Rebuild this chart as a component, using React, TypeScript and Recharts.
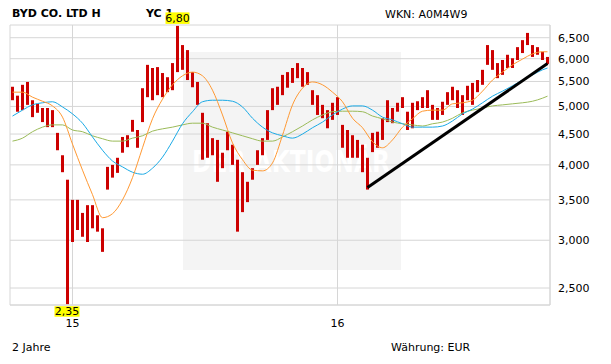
import React from 'react';
import { ComposedChart, Bar, Line, XAxis, YAxis, CartesianGrid, LabelList } from 'recharts';

// weekly high / low (EUR)
const highs = [
  5.39, 5.21, 5.43, 5.49, 5.12, 5.05, 4.97, 4.97, 4.93, 4.52,
  4.15, 3.78, 3.5, 3.5, 3.33, 3.43, 3.43, 3.3, 3.14, 3.97,
  4.0, 4.11, 4.45, 4.48, 4.75, 4.57, 5.36, 5.86, 5.79, 5.81,
  5.68, 5.59, 5.9, 6.8, 6.32, 6.2, 5.7, 5.49, 4.88, 4.69,
  4.43, 4.4, 4.19, 4.54, 4.32, 4.08, 3.89, 3.75, 3.95, 4.23,
  4.43, 4.93, 5.36, 5.39, 5.64, 5.7, 5.79, 5.9, 5.79, 5.7,
  5.32, 5.22, 5.03, 4.93, 5.07, 5.18, 4.66, 4.57, 4.48, 4.4,
  4.32, 4.11, 4.52, 4.54, 4.78, 5.12, 4.97, 5.07, 5.18, 4.9,
  5.07, 5.1, 5.18, 5.32, 5.03, 4.97, 5.09, 5.28, 5.39, 5.32,
  5.22, 5.41, 5.47, 5.53, 5.75, 6.32, 6.2, 5.9, 5.97, 6.09,
  6.01, 6.27, 6.44, 6.62, 6.32, 6.27, 6.16, 6.04,
];
const lows = [
  5.12, 4.9, 4.93, 5.03, 4.8, 4.88, 4.71, 4.62, 4.62, 4.23,
  3.89, 2.35, 2.98, 3.12, 3.04, 2.98, 3.14, 3.1, 2.87, 3.64,
  3.81, 3.88, 4.19, 4.28, 4.54, 4.27, 4.71, 5.18, 5.12, 5.22,
  5.18, 5.28, 5.32, 5.7, 5.75, 5.53, 5.38, 5.03, 4.08, 4.11,
  4.15, 3.75, 3.95, 4.23, 4.0, 3.1, 3.34, 3.47, 3.78, 4.0,
  4.15, 4.4, 4.93, 5.03, 5.22, 5.37, 5.47, 5.57, 5.39, 5.43,
  5.03, 4.84, 4.78, 4.6, 4.75, 4.84, 4.27, 4.11, 4.11, 4.11,
  3.89, 3.64, 4.2, 4.27, 4.4, 4.71, 4.69, 4.9, 4.97, 4.57,
  4.6, 4.93, 4.97, 4.97, 4.75, 4.75, 4.84, 5.03, 5.12, 4.97,
  4.84, 5.12, 5.03, 5.28, 5.43, 5.86, 5.75, 5.57, 5.64, 5.79,
  5.79, 5.97, 6.13, 6.32, 6.04, 6.09, 5.97, 5.88,
];

// moving averages, every second week (the last value is the final week)
const maShort = [
  5.28, 5.28, 5.18, 5.1, 5.01, 4.8, 4.33, 3.92, 3.57, 3.27,
  3.32, 3.5, 3.81, 4.27, 4.77, 5.14, 5.43, 5.62, 5.7, 5.62,
  5.32, 4.84, 4.35, 4.08, 3.92, 3.91, 4.03, 4.48, 5.03, 5.36,
  5.49, 5.43, 5.28, 5.09, 4.78, 4.61, 4.37, 4.27, 4.4, 4.62,
  4.77, 4.91, 4.93, 4.93, 5.05, 5.07, 5.12, 5.3, 5.53, 5.7,
  5.86, 5.99, 6.11, 6.16, 6.16,
];
const maMid = [
  4.82, 4.93, 5.03, 5.07, 5.09, 4.99, 4.86, 4.69, 4.45, 4.23,
  4.06, 3.97, 3.89, 3.86, 3.95, 4.12, 4.38, 4.68, 4.9, 5.09,
  5.12, 5.12, 5.1, 4.99, 4.78, 4.62, 4.52, 4.47, 4.43, 4.5,
  4.61, 4.71, 4.84, 4.95, 5.01, 5.01, 4.93, 4.8, 4.75, 4.68,
  4.62, 4.62, 4.62, 4.64, 4.73, 4.86, 4.95, 5.07, 5.2, 5.3,
  5.41, 5.53, 5.64, 5.75, 5.79,
];
const maLong = [
  4.38, 4.43, 4.54, 4.62, 4.66, 4.66, 4.57, 4.54, 4.47, 4.42,
  4.38, 4.38, 4.43, 4.47, 4.55, 4.59, 4.62, 4.66, 4.69, 4.69,
  4.62, 4.57, 4.52, 4.47, 4.42, 4.38, 4.38, 4.45, 4.54, 4.64,
  4.75, 4.84, 4.9, 4.91, 4.91, 4.9, 4.82, 4.77, 4.71, 4.68,
  4.66, 4.64, 4.68, 4.71, 4.78, 4.88, 4.93, 4.97, 5.01, 5.03,
  5.05, 5.07, 5.1, 5.16, 5.2,
];

// trend line: [week index, price]
const trendPoints = [
  [71, 3.67],
  [107, 5.89],
];

const yearTicks = [12, 65];
const yearLabels = ['15', '16'];
const priceTicks = [2.5, 3, 3.5, 4, 4.5, 5, 5.5, 6, 6.5];

const N = highs.length;
const data: any[] = highs.map((h, k) => ({
  k,
  range: [lows[k], h],
  maShort: null,
  maMid: null,
  maLong: null,
  trend: null,
}));
maShort.forEach((v, j) => (data[Math.min(j * 2, N - 1)].maShort = v));
maMid.forEach((v, j) => (data[Math.min(j * 2, N - 1)].maMid = v));
maLong.forEach((v, j) => (data[Math.min(j * 2, N - 1)].maLong = v));
trendPoints.forEach(([k, v]) => (data[k].trend = v));

const maxHigh = Math.max(...highs);
const minLow = Math.min(...lows);

const FONT = 'DejaVu Sans';
const GRID = '#d6d6d6';
const fmt = (v: number, d: number) => v.toFixed(d).replace('.', ',');

const ExtremeLabel = (props: any) => {
  const vb = props.viewBox || props;
  const x = vb.x, w = vb.width;
  const top = Math.min(vb.y, vb.y + vb.height);
  const bottom = Math.max(vb.y, vb.y + vb.height);
  const v = Array.isArray(props.value) ? props.value : data[props.index]?.range;
  if (!v) return null;
  const cx = x + w / 2;
  if (v[1] === maxHigh) {
    return (
      <g>
        <rect x={cx - 12} y={top - 13.5} width={24} height={11.5} fill="#ffff00" />
        <text x={cx} y={top - 4} textAnchor="middle" fontFamily={FONT} fontSize={11} fill="#000">
          {fmt(v[1], 2)}
        </text>
      </g>
    );
  }
  if (v[0] === minLow) {
    return (
      <g>
        <rect x={cx - 13} y={bottom + 2} width={25} height={10.5} fill="#ffff00" />
        <text x={cx - 0.5} y={bottom + 11} textAnchor="middle" fontFamily={FONT} fontSize={11} fill="#000">
          {fmt(v[0], 2)}
        </text>
      </g>
    );
  }
  return null;
};

export default function App() {
  const tick = { fontSize: 11, fill: '#000', fontFamily: FONT };
  return (
    <div style={{ position: 'absolute', left: 0, top: 0, width: 611, height: 364, background: '#fff' }}>
      <svg width={611} height={364} style={{ position: 'absolute', left: 0, top: 0 }}>
        <rect x={183} y={52} width={218} height={218} fill="#f4f4f4" />
        <text x={192} y={172} fill="#ffffff" fontFamily={FONT} fontWeight="bold" fontSize={30}
          textLength={198} lengthAdjust="spacingAndGlyphs">DER AKTIONÄR</text>
        <text x={12} y={17} fontFamily={FONT} fontWeight="bold" fontSize={11} fill="#000">BYD CO. LTD H</text>
        <text x={146} y={17} fontFamily={FONT} fontWeight="bold" fontSize={11} fill="#000">YC 1</text>
        <text x={385} y={18} fontFamily={FONT} fontSize={11} fill="#000">WKN: A0M4W9</text>
        <text x={12} y={351} fontFamily={FONT} fontSize={11} fill="#000">2 Jahre</text>
        <text x={391} y={351} fontFamily={FONT} fontSize={11} fill="#000">Währung: EUR</text>
      </svg>
      <div style={{ position: 'absolute', left: 0, top: 0 }}>
        <ComposedChart width={611} height={364} data={data} margin={{ top: 25, right: 0, left: 10, bottom: 39 }}>
          <CartesianGrid stroke={GRID} strokeWidth={1} />
          <XAxis dataKey="k" type="category" ticks={yearTicks} interval={0} height={20}
            tickLine={false} tickMargin={8} axisLine={{ stroke: GRID }} tick={tick}
            tickFormatter={(k: any) => yearLabels[yearTicks.indexOf(Number(k))]} />
          <XAxis xAxisId="t" dataKey="k" orientation="top" height={0} tick={false} tickLine={false}
            axisLine={{ stroke: GRID }} />
          <YAxis orientation="right" scale="log" type="number" domain={[2.343, 6.823]} allowDataOverflow
            ticks={priceTicks} interval={0} width={61} tickLine={false} axisLine={{ stroke: GRID }}
            tick={{ ...tick, textAnchor: 'start' }} tickFormatter={(v: number) => fmt(v, 3)} />
          <YAxis yAxisId="l" orientation="left" width={0} tick={false} tickLine={false} axisLine={{ stroke: GRID }} />
          <Bar dataKey="range" fill="#cc0000" barSize={3} isAnimationActive={false}>
            <LabelList dataKey="range" content={ExtremeLabel} />
          </Bar>
          <Line dataKey="maLong" stroke="#9bbb59" strokeWidth={1} dot={false} type="monotone" connectNulls isAnimationActive={false} />
          <Line dataKey="maMid" stroke="#1aaae6" strokeWidth={1} dot={false} type="monotone" connectNulls isAnimationActive={false} />
          <Line dataKey="maShort" stroke="#ff9933" strokeWidth={1} dot={false} type="monotone" connectNulls isAnimationActive={false} />
          <Line dataKey="trend" stroke="#000" strokeWidth={3} dot={false} type="linear" connectNulls isAnimationActive={false} />
        </ComposedChart>
      </div>
    </div>
  );
}
